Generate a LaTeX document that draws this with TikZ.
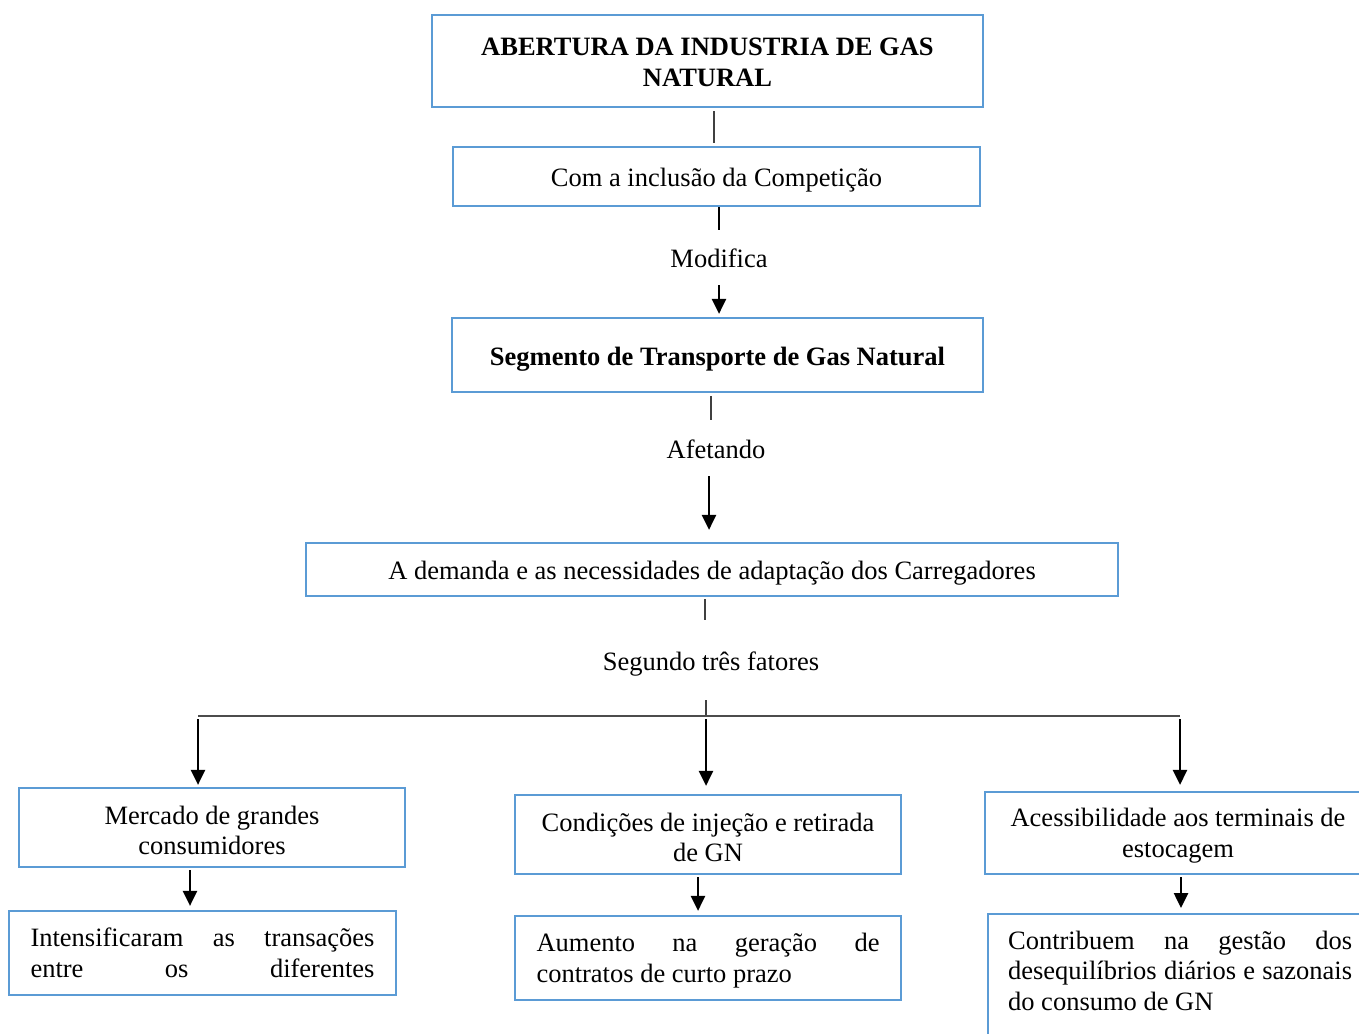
\documentclass[tikz,border=0pt]{standalone}
\usepackage{fontspec}
\setmainfont{Liberation Serif}
\usetikzlibrary{arrows.meta}
\definecolor{boxblue}{HTML}{5B9BD5}
\newcommand{\diagfont}{\fontsize{26.5}{30.5}\selectfont}
\tikzset{
	box/.style={draw=boxblue, line width=2.2pt, inner sep=0pt, align=flush center},
	onebox/.style={box, text height=22pt, text depth=2pt},
	twobox/.style={box, text width=370pt, text height=24pt, minimum width=386},
	lbl/.style={inner sep=0pt, text height=22pt, text depth=2pt},
	thinline/.style={draw=black!75, line width=1.2pt},
	arr/.style={line width=2.6pt, -{Triangle[length=15pt,width=14pt]}}
}
\begin{document}
\begin{tikzpicture}[x=1pt, y=-1pt, font=\diagfont]
			\useasboundingbox (0,0) rectangle (1359,1033);
			\clip (0,0) rectangle (1359,1033);
			%main chain
			\node[box, text width=530pt, text height=20pt, minimum width=551, minimum height=92, font=\diagfont\bfseries] (abertura) at (707.5,61)
			{ABERTURA DA INDUSTRIA DE GAS\\NATURAL};
			\node[onebox, minimum width=527, minimum height=59] (competicao) at (716.5,176.5)
			{Com a inclusão da Competição};
			\node[lbl, minimum height=55] (modifica) at (719,257.5) {Modifica};
			\node[onebox, minimum width=531, minimum height=74, font=\diagfont\bfseries] (segmento) at (717.5,355)
			{Segmento de Transporte de Gas Natural};
			\node[lbl, minimum height=56] (afetando) at (716,448) {Afetando};
			\node[onebox, minimum width=812, minimum height=53] (demanda) at (712,569.5)
			{A demanda e as necessidades de adaptação dos Carregadores};
			\node[lbl, minimum height=80] (segundo) at (711,660) {Segundo três fatores};
			%bar
			\coordinate (bar) at (706,716);
			\coordinate (barL) at (198,716);
			\coordinate (barR) at (1180,716);
			%factors
			\node[twobox, minimum height=79] (mercado) at (212,827.5)
			{Mercado de grandes\\consumidores};
			\node[twobox, minimum height=79] (condicoes) at (708,834.5)
			{Condições de injeção e retirada\\de GN};
			\node[twobox, minimum height=82] (acesso) at (1178,833)
			{Acessibilidade aos terminais de\\estocagem};
			%effects
			\node[box, align=flush left, text width=344pt, inner xsep=21.5pt, minimum height=84] (intens) at (202.5,953)
			{Intensificaram\hfill as\hfill transações\\entre\hfill os\hfill diferentes};
			\node[box, align=flush left, text height=24pt, text width=343pt, inner xsep=21.5pt, minimum height=84] (aumento) at (708,958)
			{Aumento\hfill na\hfill geração\hfill de\\contratos de curto prazo};
			\node[box, anchor=north west, inner xsep=20pt, inner ysep=9pt] (contribuem) at (987,913)
			{\parbox[t][150pt][t]{344pt}{\rule{0pt}{26pt}Contribuem\hfill na\hfill gestão\hfill dos\\desequilíbrios\hfill diários\hfill e\hfill sazonais\\do consumo de GN}};
			%links
			\draw[thinline, shorten <=3pt, shorten >=3pt] ([xshift=6.5pt]abertura.south) -- ([xshift=6.5pt]abertura.south |- competicao.north);
			\draw[line width=2.4pt] (competicao.south -| modifica) -- (modifica.north);
			\draw[arr, shorten >=3pt] (modifica.south) -- (modifica |- segmento.north);
			\draw[thinline, shorten <=3pt] ([xshift=-6.5pt]segmento.south) -- ([xshift=-6.5pt]segmento.south |- afetando.north);
			\draw[arr, shorten >=12pt] ([xshift=-7pt]afetando.south) -- ([xshift=-7pt]afetando.south |- demanda.north);
			\draw[thinline, shorten <=2pt] ([xshift=-7pt]demanda.south) -- ([xshift=-7pt]demanda.south |- segundo.north);
			\draw[thinline] ([xshift=-5pt]segundo.south) -- (bar);
			\draw[draw=black!70, line width=1.8pt] (barL) -- (barR);
			\foreach \p/\b/\s in {barL/mercado/2pt, bar/condicoes/8pt, barR/acesso/6pt}
			\draw[arr, shorten >=\s] ([yshift=-3pt]\p) -- (\p |- \b.north);
			\draw[arr, shorten <=2pt, shorten >=4pt] ([xshift=-22pt]mercado.south) -- ([xshift=-22pt]mercado.south |- intens.north);
			\draw[arr, shorten <=2pt, shorten >=4pt] ([xshift=-10pt]condicoes.south) -- ([xshift=-10pt]condicoes.south |- aumento.north);
			\draw[arr, shorten <=2pt, shorten >=5pt] ([xshift=3pt]acesso.south) -- ([xshift=3pt]acesso.south |- contribuem.north);
\end{tikzpicture}
\end{document}
